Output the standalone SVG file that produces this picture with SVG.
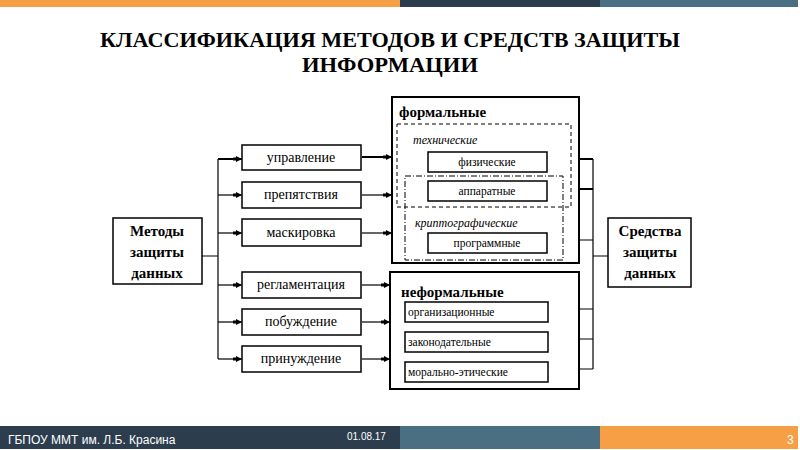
<svg xmlns="http://www.w3.org/2000/svg" width="800" height="450" viewBox="0 0 800 450">
<defs>
<style>
.box{fill:#fff;stroke:#000;stroke-width:1.5}
.cont{fill:#fff;stroke:#000;stroke-width:2}
.dash{fill:none;stroke:#000;stroke-width:1;stroke-dasharray:4,3}
.dashdot{fill:none;stroke:#000;stroke-width:1;stroke-dasharray:6,2,1,2}
.t,.s,.b,.i,.ttl{font-family:"Liberation Serif","Times New Roman",Times,"DejaVu Serif",serif;fill:#000}
.t{font-size:14px}
.s{font-size:11.5px}
.b{font-size:15px;font-weight:bold}
.i{font-size:12px;font-style:italic}
.ttl{font-size:22px;font-weight:bold;text-anchor:middle}
.ln{fill:none;stroke:#000;stroke-width:1.2}
.lnb{fill:none;stroke:#000;stroke-width:2}
.ft{font-family:"Liberation Sans",Arial,"DejaVu Sans",sans-serif;fill:#fff}
</style>
<marker id="ah" markerUnits="userSpaceOnUse" markerWidth="10" markerHeight="6" refX="9" refY="3" orient="auto">
<path d="M0,1.5 L3,1.5 L3,0 L9,3 L3,6 L3,4.5 L0,4.5 z" fill="#000"/>
</marker>
</defs>
<rect x="0" y="0" width="800" height="450" fill="#fff"/>
<rect x="0" y="0" width="400" height="7" fill="#F79F45"/>
<rect x="400" y="0" width="200" height="7" fill="#2C3E4E"/>
<rect x="600" y="0" width="198" height="7" fill="#4A6F82"/>

<g id="title">
<text class="ttl" x="390" y="47" textLength="580" lengthAdjust="spacingAndGlyphs">КЛАССИФИКАЦИЯ МЕТОДОВ И СРЕДСТВ ЗАЩИТЫ</text>
<text class="ttl" x="390" y="72" textLength="176" lengthAdjust="spacingAndGlyphs">ИНФОРМАЦИИ</text>
</g>

<g id="connectors">
<path class="ln" d="M202,256 H218 M218,159 V359"/>
<path class="lnb" d="M218,159 H242" marker-end="url(#ah)"/>
<path class="ln" d="M218,195 H242" marker-end="url(#ah)"/>
<path class="ln" d="M218,233 H242" marker-end="url(#ah)"/>
<path class="ln" d="M218,285 H242" marker-end="url(#ah)"/>
<path class="ln" d="M218,322 H242" marker-end="url(#ah)"/>
<path class="ln" d="M218,359 H242" marker-end="url(#ah)"/>
<path class="lnb" d="M362,157 H392" marker-end="url(#ah)"/>
<path class="ln" d="M362,195 H392" marker-end="url(#ah)"/>
<path class="ln" d="M362,233 H392" marker-end="url(#ah)"/>
<path class="ln" d="M362,285 H390" marker-end="url(#ah)"/>
<path class="ln" d="M362,322 H390" marker-end="url(#ah)"/>
<path class="ln" d="M362,359 H390" marker-end="url(#ah)"/>
<path class="ln" d="M608,256 H593 M593,159 V369"/>
<path class="lnb" d="M593,159 H547" marker-end="url(#ah)"/>
<path class="lnb" d="M593,189 H547" marker-end="url(#ah)"/>
<path class="ln" d="M593,240 H547" marker-end="url(#ah)"/>
<path class="ln" d="M593,309 H548" marker-end="url(#ah)"/>
<path class="ln" d="M593,339 H548" marker-end="url(#ah)"/>
<path class="ln" d="M593,369 H548" marker-end="url(#ah)"/>
</g>

<g id="methods">
<rect class="box" x="113" y="218" width="89" height="66" stroke-width="2"/>
<text class="b" x="157" y="236" text-anchor="middle">Методы</text>
<text class="b" x="157" y="257" text-anchor="middle">защиты</text>
<text class="b" x="157" y="278" text-anchor="middle">данных</text>
</g>

<g id="upravlenie"><rect class="box" x="242" y="145" width="119" height="25" stroke-width="2"/><text class="t" x="301" y="162" text-anchor="middle">управление</text></g>
<g id="prepyatstviya"><rect class="box" x="242" y="182" width="119" height="26"/><text class="t" x="301" y="199" text-anchor="middle">препятствия</text></g>
<g id="maskirovka"><rect class="box" x="242" y="219" width="119" height="27"/><text class="t" x="301" y="237" text-anchor="middle">маскировка</text></g>
<g id="reglamentatsiya"><rect class="box" x="242" y="272" width="119" height="26"/><text class="t" x="301" y="289" text-anchor="middle">регламентация</text></g>
<g id="pobuzhdenie"><rect class="box" x="242" y="309" width="119" height="26"/><text class="t" x="301" y="326" text-anchor="middle">побуждение</text></g>
<g id="prinuzhdenie"><rect class="box" x="242" y="346" width="119" height="26"/><text class="t" x="301" y="363" text-anchor="middle">принуждение</text></g>

<g id="formalnye">
<rect class="cont" x="392" y="97" width="187" height="166"/>
<text class="b" x="399" y="117">формальные</text>
<rect class="dash" x="397" y="124" width="174" height="83"/>
<text class="i" x="413" y="144">технические</text>
<rect class="dashdot" x="405" y="176" width="158" height="84"/>
<text class="i" x="415" y="227">криптографические</text>
</g>
<g id="fizicheskie"><rect class="box" x="428" y="152" width="119" height="20"/><text class="s" x="487" y="166" text-anchor="middle">физические</text></g>
<g id="apparatnye"><rect class="box" x="428" y="181" width="119" height="20"/><text class="s" x="487" y="195" text-anchor="middle">аппаратные</text></g>
<g id="programmnye"><rect class="box" x="428" y="233" width="119" height="20"/><text class="s" x="487" y="247" text-anchor="middle">программные</text></g>

<g id="neformalnye">
<rect class="cont" x="390" y="272" width="189" height="117"/>
<text class="b" x="401" y="297">неформальные</text>
</g>
<g id="organizatsionnye"><rect class="box" x="405" y="302" width="143" height="20"/><text class="s" x="408" y="316">организационные</text></g>
<g id="zakonodatelnye"><rect class="box" x="405" y="332" width="143" height="20"/><text class="s" x="408" y="346">законодательные</text></g>
<g id="moralno"><rect class="box" x="405" y="362" width="143" height="20"/><text class="s" x="408" y="376">морально-этические</text></g>

<g id="sredstva">
<rect class="box" x="608" y="218" width="83" height="69" stroke-width="2"/>
<text class="b" x="650" y="236" text-anchor="middle">Средства</text>
<text class="b" x="650" y="257" text-anchor="middle">защиты</text>
<text class="b" x="650" y="278" text-anchor="middle">данных</text>
</g>

<g id="footer">
<rect x="0" y="426" width="400" height="23" fill="#2C3E4E"/>
<rect x="400" y="426" width="200" height="23" fill="#4A6F82"/>
<rect x="600" y="426" width="198" height="23" fill="#F79F45"/>
<text class="ft" x="8" y="444" font-size="12">ГБПОУ ММТ им. Л.Б. Красина</text>
<text class="ft" x="347" y="440" font-size="10">01.08.17</text>
<text class="ft" x="787" y="444" font-size="12" fill="#FCD9B0">3</text>
</g>
</svg>
